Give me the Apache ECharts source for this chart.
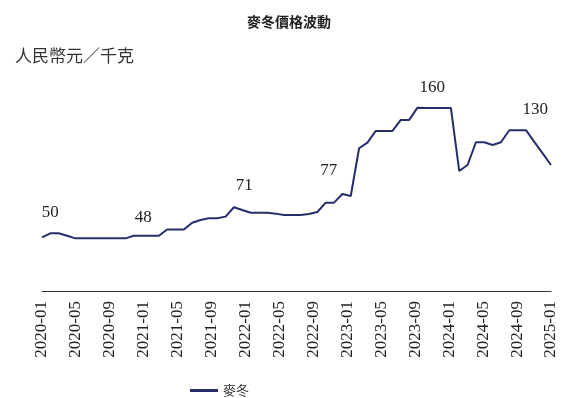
<!DOCTYPE html>
<html lang="zh-Hant">
<head>
    <meta charset="UTF-8">
    <title>麥冬價格波動</title>
</head>
<body style="margin:0;">

    <div id="main" style="width: 578px; height: 398px;"></div>
    <script src="https://cdn.jsdelivr.net/npm/echarts@6/dist/echarts.min.js"></script>
    <script>
      // tick labels on the visible axis, every month 2020-01 .. 2025-01
      function monthRange(y0, m0, y1, m1) {
        var out = [];
        for (var y = y0, m = m0; y < y1 || (y === y1 && m <= m1); m++) {
          if (m > 12) { m = 1; y++; }
          if (y > y1 || (y === y1 && m > m1)) break;
          out.push(y + '-' + (m < 10 ? '0' + m : m));
        }
        return out;
      }
      const tickLabels = monthRange(2020, 1, 2025, 1);
      // points of the line (62 readings)
      const pointNames = monthRange(2020, 1, 2025, 2);

      const maidongPrice = [
        46.9, 50.4, 50.4, 48.3, 46, 46, 46, 46, 46, 46,
        46, 48.3, 48.3, 48.3, 48.3, 53.7, 53.7, 53.7, 59.7, 62,
        63.5, 63.5, 65, 73.2, 70.8, 68.4, 68.4, 68.4, 67.6, 66.4,
        66.4, 66.4, 67.3, 69, 77.2, 77.2, 84.8, 83, 124.7, 129.6,
        139.9, 139.9, 139.9, 149.5, 149.5, 160.2, 160, 160, 160, 160,
        104.9, 110.1, 130, 130, 127.6, 130, 140.5, 140.5, 140.5, 130.3,
        120.3, 110.1
      ];

      // annotated numbers written above the line
      const noteIndex = [1, 12, 24, 34, 47, 59];
      const noteText = ['50', '48', '71', '77', '160', '130'];

      var chartDom = document.getElementById('main');
      var myChart = echarts.init(chartDom);
      var option;

      var serif = "'Liberation Serif', 'Times New Roman', serif";
      var noteLift = [12, 10, 16, 24, 12, 24];
      var noteShift = [0, 1, 2, 3, -2, 1];

      var seriesData = maidongPrice.map(function (v, i) {
        var k = noteIndex.indexOf(i);
        if (k < 0) return v;
        return {
          value: v,
          label: {
            show: true,
            position: 'top',
            formatter: noteText[k],
            distance: noteLift[k],
            offset: [noteShift[k], 0],
            fontFamily: serif,
            fontSize: 17,
            color: '#222'
          }
        };
      });

      option = {
        animation: false,
        backgroundColor: '#fff',
        title: [
          {
            text: '麥冬價格波動',
            left: 'center',
            top: 10,
            textStyle: {
              fontFamily: 'Noto Sans CJK TC',
              fontSize: 14,
              fontWeight: 'bold',
              color: '#222'
            }
          },
          {
            text: '人民幣元／千克',
            left: 10,
            top: 42,
            textStyle: {
              fontFamily: 'Noto Sans CJK TC',
              fontSize: 17,
              fontWeight: 'normal',
              color: '#333'
            }
          }
        ],
        legend: {
          left: 185,
          top: 379,
          icon: 'rect',
          itemWidth: 28,
          itemHeight: 3,
          itemGap: 10,
          textStyle: {
            fontFamily: 'Noto Sans CJK TC',
            fontSize: 13,
            color: '#333'
          },
          data: ['麥冬']
        },
        grid: {
          left: 42,
          right: 27,
          top: 85,
          bottom: 107
        },
        xAxis: [
          {
            type: 'category',
            boundaryGap: false,
            data: tickLabels,
            axisLine: { lineStyle: { color: '#333', width: 1 } },
            axisTick: { show: false },
            axisLabel: {
              interval: 3,
              rotate: 90,
              margin: 10,
              fontFamily: serif,
              fontSize: 17,
              color: '#222'
            },
            splitLine: { show: false }
          },
          {
            type: 'category',
            boundaryGap: false,
            data: pointNames,
            show: false
          }
        ],
        yAxis: {
          type: 'value',
          min: 0,
          max: 180,
          show: false
        },
        series: [
          {
            name: '麥冬',
            type: 'line',
            xAxisIndex: 1,
            symbol: 'circle',
            symbolSize: 0,
            showSymbol: true,
            showAllSymbol: true,
            lineStyle: { color: '#252d6b', width: 2 },
            itemStyle: { color: '#252d6b' },
            data: seriesData
          }
        ]
      };

      option && myChart.setOption(option);
    </script>
</body>
</html>
